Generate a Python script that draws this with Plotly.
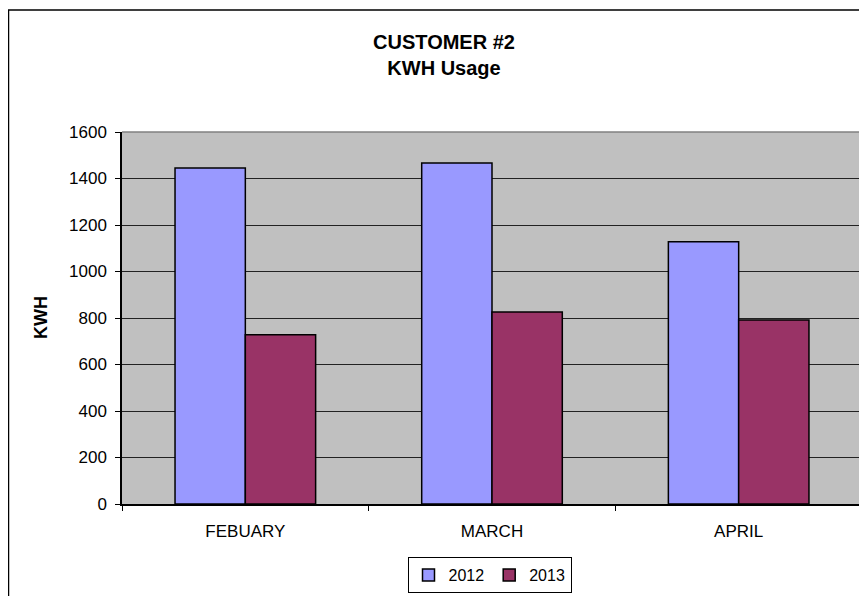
import plotly.graph_objects as go

months = ["FEBUARY", "MARCH", "APRIL"]
kwh_2012 = [1445, 1467, 1128]
kwh_2013 = [728, 826, 791]
series_names = ["2012", "2013"]
colors = ["#9999FF", "#993366"]

# page has an 8px body margin all round; keep the figure inside the window
OFF = 8
W, H = 867 - 2 * OFF, 604 - 2 * OFF
L, R, T, B = 122 - OFF, 0, 132 - OFF, H - (504 - OFF)
pw, ph = W - L - R, H - T - B
cat_px = 740 / 3.0  # category width in reference pixels
x_hi = -0.5 + pw / cat_px

def px_x(x):
    return (x - OFF - L) / pw

def px_y(y):
    return (H - B - (y - OFF)) / ph

fig = go.Figure()
for name, vals, col in zip(series_names, [kwh_2012, kwh_2013], colors):
    fig.add_trace(go.Bar(
        x=months, y=vals, name=name,
        marker=dict(color=col, line=dict(color="black", width=1.5)),
    ))

font_family = "Liberation Sans, Arial, sans-serif"

fig.update_layout(
    width=W, height=H,
    margin=dict(l=L, r=R, t=T, b=B),
    paper_bgcolor="white",
    plot_bgcolor="#C0C0C0",
    barmode="group",
    bargap=0.43,
    bargroupgap=0,
    font=dict(family=font_family, color="black", size=17),
    title=dict(
        text="<b>CUSTOMER #2</b><br><b>KWH Usage</b>",
        x=(444 - OFF) / W, xanchor="center",
        y=1 - (49 - OFF) / H, yanchor="middle", yref="container",
        font=dict(size=20, family=font_family, color="black"),
    ),
    showlegend=True,
    legend=dict(
        orientation="h",
        x=px_x(489.5), xanchor="center",
        y=px_y(557), yanchor="top",
        bgcolor="white",
        bordercolor="black", borderwidth=1,
        font=dict(size=16),
        itemwidth=30,
        traceorder="normal",
    ),
    xaxis=dict(
        range=[-0.5, x_hi],
        showline=True, linecolor="black", linewidth=1.5,
        ticks="outside", tickson="boundaries", ticklen=5, tickcolor="black",
        tickfont=dict(size=17),
        ticklabelstandoff=11,
        showgrid=False,
    ),
    yaxis=dict(
        range=[0, 1600], dtick=200,
        showline=True, linecolor="black", linewidth=1.5,
        ticks="outside", ticklen=5, tickcolor="black",
        tickfont=dict(size=17),
        ticklabelstandoff=5,
        showgrid=True, gridcolor="#222222", gridwidth=1,
        zeroline=False,
    ),
    annotations=[
        dict(
            text="<b>KWH</b>", textangle=-90,
            xref="paper", yref="paper",
            x=px_x(41), y=0.5, xanchor="center", yanchor="middle",
            showarrow=False, font=dict(size=18, family=font_family, color="black"),
        )
    ],
    shapes=[
        # outer chart border
        dict(type="rect", xref="paper", yref="paper",
             x0=px_x(8.5), x1=px_x(900), y0=px_y(640), y1=px_y(10),
             line=dict(color="black", width=1.5), fillcolor="rgba(0,0,0,0)", layer="below"),
        # plot area top edge (gray)
        dict(type="line", xref="paper", yref="paper", x0=0, x1=1, y0=1, y1=1,
             line=dict(color="#808080", width=1.5)),
    ],
)

fig.write_html("out.html")
